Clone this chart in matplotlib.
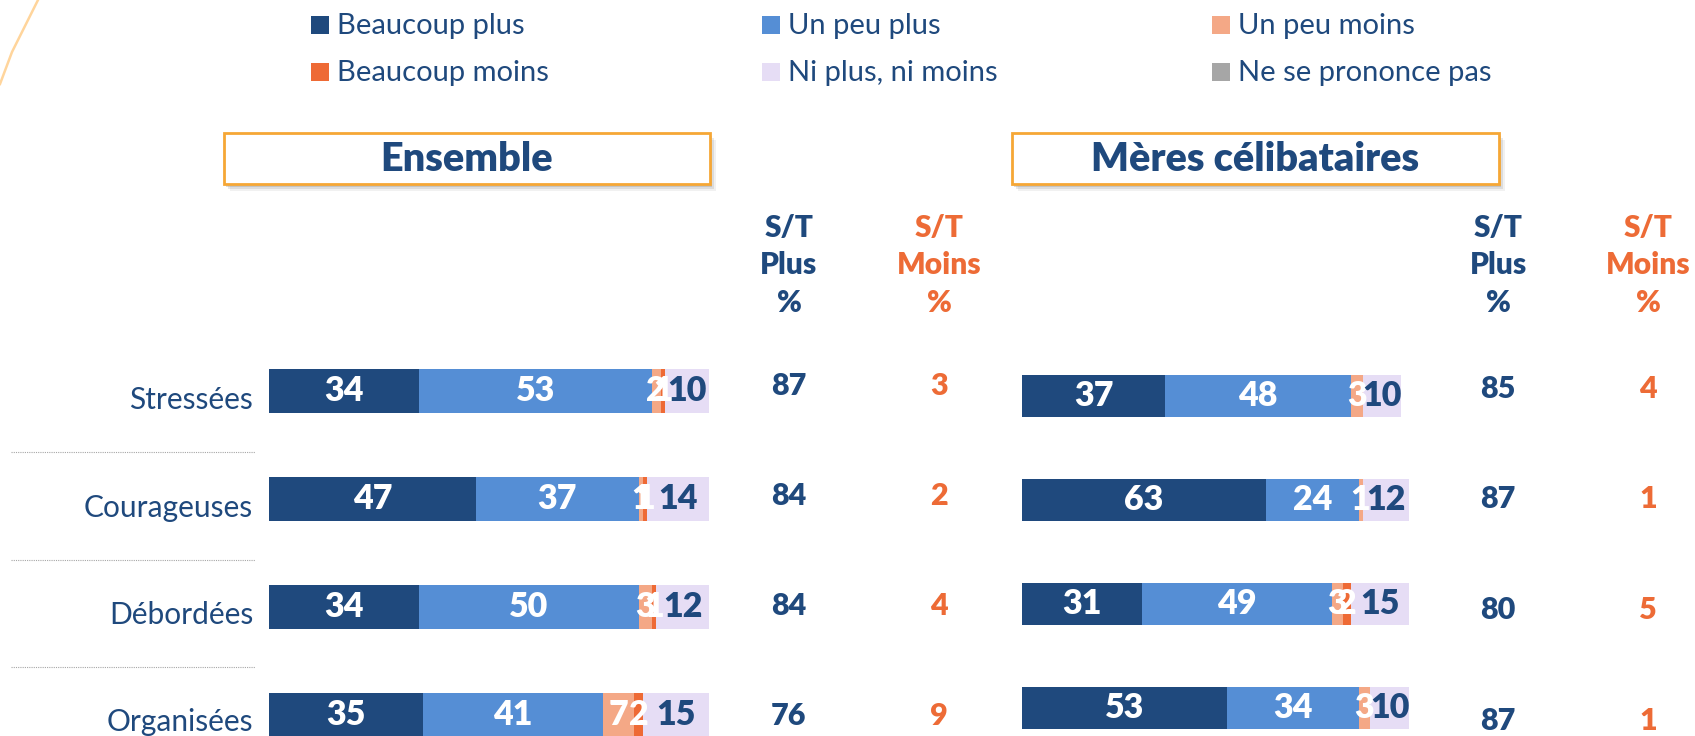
import matplotlib
matplotlib.use("Agg")
import matplotlib.pyplot as plt
from matplotlib.patches import Rectangle
from matplotlib.lines import Line2D

W, H = 1695, 736
DPI = 100

# ---------------- data ----------------
categories = ["Stressées", "Courageuses", "Débordées", "Organisées"]
series_names = ["Beaucoup plus", "Un peu plus", "Un peu moins",
                "Beaucoup moins", "Ni plus, ni moins", "Ne se prononce pas"]
series_colors = ["#1F497D", "#558ED5", "#F4A886", "#EE6A35", "#E6DDF5", "#A6A6A6"]

ens_beaucoup_plus = [34, 47, 34, 35]
ens_un_peu_plus = [53, 37, 50, 41]
ens_un_peu_moins = [2, 1, 3, 7]
ens_beaucoup_moins = [1, 1, 1, 2]
ens_ni = [10, 14, 12, 15]
ens_nsp = [0, 0, 0, 0]
ens_st_plus = [87, 84, 84, 76]
ens_st_moins = [3, 2, 4, 9]

mc_beaucoup_plus = [37, 63, 31, 53]
mc_un_peu_plus = [48, 24, 49, 34]
mc_un_peu_moins = [3, 1, 3, 3]
mc_beaucoup_moins = [0, 0, 2, 0]
mc_ni = [10, 12, 15, 10]
mc_nsp = [0, 0, 0, 0]
mc_st_plus = [85, 87, 80, 87]
mc_st_moins = [4, 1, 5, 1]

panel_titles = ["Ensemble", "Mères célibataires"]
# --------------------------------------

FONT = "Lato"
DARK = "#1F497D"
ORANGE = "#ED6B36"
HEAVY = "heavy"

fig = plt.figure(figsize=(W / DPI, H / DPI), dpi=DPI)
fig.patch.set_facecolor("white")


def fx(x):
    return x / W


def fy(y):
    return 1 - y / H


def ftext(x, y, s, **kw):
    kw.setdefault("family", FONT)
    fig.text(fx(x), fy(y), s, **kw)


# decorative orange curve, top-left
fig.add_artist(Line2D([fx(0), fx(12), fx(26), fx(38)],
                      [fy(84), fy(52), fy(24), fy(0)],
                      color="#FFD59C", lw=1.8, transform=fig.transFigure))

# legend
legend_cols = [(311, 337), (762, 788), (1212, 1238)]
legend_rows = [25, 72]
for k, (name, col) in enumerate(zip(series_names, series_colors)):
    r, c = divmod(k, 3)
    mx, tx = legend_cols[c]
    yc = legend_rows[r]
    fig.add_artist(Rectangle((fx(mx), fy(yc + 9)), 18 / W, 18 / H,
                             facecolor=col, edgecolor="none",
                             transform=fig.transFigure))
    ftext(tx, yc + 1, name, fontsize=21, color=DARK, va="center", ha="left")


def title_box(x0, x1, y0, y1, title):
    # soft shadow
    for off, a in [(7, 0.12), (5, 0.2), (3, 0.3)]:
        fig.add_artist(Rectangle((fx(x0 + off - 1), fy(y1 + off)), (x1 - x0) / W,
                                 (y1 - y0) / H, facecolor="#8C8C8C", edgecolor="none",
                                 alpha=a, transform=fig.transFigure, zorder=1))
    fig.add_artist(Rectangle((fx(x0), fy(y1)), (x1 - x0) / W, (y1 - y0) / H,
                             facecolor="white", edgecolor="#F6A735", lw=2,
                             transform=fig.transFigure, zorder=2))
    ftext((x0 + x1) / 2, (y0 + y1) / 2 + 1, title, fontsize=28.5, fontweight=HEAVY,
          color=DARK, ha="center", va="center", zorder=3)


def panel(x0, x1, c0, sp, bar_px, segs, st_plus, st_moins,
          col_plus, col_moins, st_y0, st_sp, title_rect, title):
    top_px, bot_px = 337, 736
    ax = fig.add_axes([fx(x0), fy(bot_px), (x1 - x0) / W, (bot_px - top_px) / H])
    ax.set_xlim(0, 100)
    ax.set_ylim((bot_px - c0) / sp, (top_px - c0) / sp)
    ax.axis("off")
    ypos = list(range(len(categories)))
    left = [0] * len(categories)
    for k, vals in enumerate(segs):
        ax.barh(ypos, vals, left=left, height=bar_px / sp,
                color=series_colors[k], edgecolor="none")
        for i, v in enumerate(vals):
            if v > 0:
                txtcol = DARK if k == 4 else "white"
                ax.text(left[i] + v / 2, i, f"{v}", ha="center", va="center",
                        fontsize=24.5, fontweight=HEAVY, color=txtcol, family=FONT)
        left = [l + v for l, v in zip(left, vals)]
    # headers
    for lab, yy in zip(["S/T", "Plus", "%"], [228, 265, 303]):
        ftext(col_plus, yy, lab, fontsize=21.5, fontweight=HEAVY, color=DARK,
              ha="center", va="center")
    for lab, yy in zip(["S/T", "Moins", "%"], [228, 265, 303]):
        ftext(col_moins, yy, lab, fontsize=21.5, fontweight=HEAVY, color=ORANGE,
              ha="center", va="center")
    for i, (p, m) in enumerate(zip(st_plus, st_moins)):
        yy = st_y0 + i * st_sp
        ftext(col_plus, yy, f"{p}", fontsize=22, fontweight=HEAVY, color=DARK,
              ha="center", va="center")
        ftext(col_moins, yy, f"{m}", fontsize=22, fontweight=HEAVY, color=ORANGE,
              ha="center", va="center")
    title_box(*title_rect, title)


panel(269, 709, 391, 108, 44,
      [ens_beaucoup_plus, ens_un_peu_plus, ens_un_peu_moins,
       ens_beaucoup_moins, ens_ni, ens_nsp],
      ens_st_plus, ens_st_moins, 789, 939, 386, 110,
      (224, 710, 133, 184), panel_titles[0])

panel(1022, 1409, 396, 104, 42,
      [mc_beaucoup_plus, mc_un_peu_plus, mc_un_peu_moins,
       mc_beaucoup_moins, mc_ni, mc_nsp],
      mc_st_plus, mc_st_moins, 1498, 1648, 389, 110.5,
      (1012, 1499, 133, 184), panel_titles[1])

# category labels and separators
for i, cat in enumerate(categories):
    ftext(253, 400 + i * 107.5, cat, fontsize=21.5, color=DARK, ha="right", va="center")
for i in range(len(categories) - 1):
    yy = 452 + i * 107.5
    fig.add_artist(Line2D([fx(11), fx(255)], [fy(yy), fy(yy)], color="#A6A6A6",
                          lw=0.8, linestyle=(0, (1, 1)), transform=fig.transFigure))

fig.savefig("out.png", dpi=DPI, facecolor="white")
